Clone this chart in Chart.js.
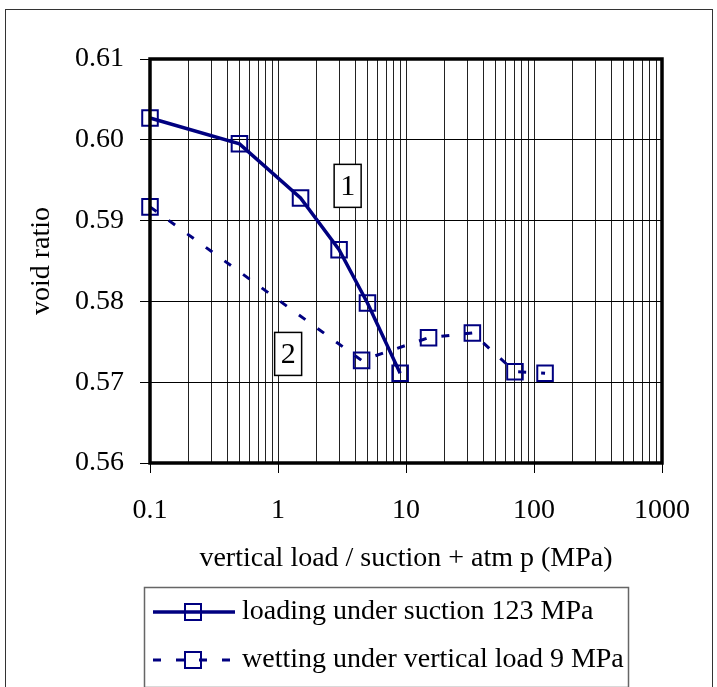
<!DOCTYPE html>
<html>
<head>
<meta charset="utf-8">
<script src="https://cdn.jsdelivr.net/npm/chart.js@4.4.1/dist/chart.umd.min.js"></script>
<style>
  html, body { margin: 0; padding: 0; background: #fff; }
  .frame { position: absolute; left: 5px; top: 9px; width: 706px; height: 700px; border: 1.5px solid #333; }
  .container { position: absolute; left: 0; top: 0; width: 717px; height: 687px; }
</style>
</head>
<body>
<div class="frame"></div>
<div class="container"><canvas id="myChart"></canvas></div>
<script>
// curve 1: loading under suction
const loadingX = [0.1, 0.5, 1.5, 3, 5, 9];
const loadingY = [0.6027, 0.5995, 0.5928, 0.5864, 0.5798, 0.5711];
// curve 2: wetting under vertical load
const wettingX = [0.1, 4.5, 15, 33, 71, 122];
const wettingY = [0.5917, 0.5727, 0.5755, 0.5761, 0.5713, 0.5711];

const xTickLabels = ["0.1", "1", "10", "100", "1000"];
const yTickLabels = ["0.56", "0.57", "0.58", "0.59", "0.60", "0.61"];

// boxed curve numbers, in data units
const curveLabels = ["1", "2"];
const curveLabelX = [3.5, 1.2];
const curveLabelY = [0.5943, 0.5735];

const NAVY = "#000080";
const SERIF = "'Liberation Serif', 'Times New Roman', serif";

const decades = xTickLabels.map(Number);
const isDecade = (v) => decades.some((d) => Math.abs(v - d) < d * 1e-6);

// frame around plot + boxed numbers
const plotExtras = {
  id: "plotExtras",
  afterDatasetsDraw(chart) {
    const { ctx, chartArea: a, scales } = chart;
    ctx.save();
    ctx.strokeStyle = "#000";
    ctx.lineWidth = 3.5;
    ctx.strokeRect(a.left, a.top, a.right - a.left, a.bottom - a.top);

    ctx.font = "30px " + SERIF;
    ctx.textAlign = "center";
    ctx.textBaseline = "middle";
    curveLabels.forEach((t, i) => {
      const x = scales.x.getPixelForValue(curveLabelX[i]);
      const y = scales.y.getPixelForValue(curveLabelY[i]);
      ctx.fillStyle = "#fff";
      ctx.fillRect(x - 13.5, y - 21.5, 27, 43);
      ctx.lineWidth = 1.5;
      ctx.strokeStyle = "#000";
      ctx.strokeRect(x - 13.5, y - 21.5, 27, 43);
      ctx.fillStyle = "#000";
      ctx.fillText(t, x, y + 1);
    });
    ctx.restore();
  },
};

// legend in a box below the axis
const boxLegend = {
  id: "boxLegend",
  afterDraw(chart) {
    const ctx = chart.ctx;
    ctx.save();
    ctx.strokeStyle = "#666";
    ctx.lineWidth = 1.5;
    ctx.strokeRect(144.5, 587.5, 484, 100);
    chart.data.datasets.forEach((ds, i) => {
      const y = 612 + i * 48;
      ctx.strokeStyle = ds.borderColor;
      ctx.lineWidth = ds.borderWidth;
      ctx.setLineDash(ds.borderDash || []);
      ctx.beginPath();
      ctx.moveTo(153, y);
      ctx.lineTo(235, y);
      ctx.stroke();
      ctx.setLineDash([]);
      ctx.lineWidth = 2;
      ctx.strokeRect(185, y - 8, 16, 16);
      ctx.fillStyle = "#000";
      ctx.font = "28px " + SERIF;
      ctx.textAlign = "left";
      ctx.textBaseline = "middle";
      ctx.fillText(ds.label, 242, y);
    });
    ctx.restore();
  },
};

new Chart(document.getElementById("myChart"), {
  type: "line",
  data: {
    datasets: [
      {
        label: "loading under suction 123 MPa",
        data: loadingX.map((x, i) => ({ x, y: loadingY[i] })),
        borderColor: NAVY,
        borderWidth: 3.5,
        pointStyle: "rect",
        pointRadius: 11,
        pointBorderWidth: 2,
        pointBorderColor: NAVY,
        pointBackgroundColor: "rgba(0,0,0,0)",
        tension: 0,
        clip: false,
      },
      {
        label: "wetting under vertical load 9 MPa",
        data: wettingX.map((x, i) => ({ x, y: wettingY[i] })),
        borderColor: NAVY,
        borderWidth: 3,
        borderDash: [8, 15],
        pointStyle: "rect",
        pointRadius: 11,
        pointBorderWidth: 2,
        pointBorderColor: NAVY,
        pointBackgroundColor: "rgba(0,0,0,0)",
        tension: 0,
        clip: false,
      },
    ],
  },
  options: {
    responsive: true,
    maintainAspectRatio: false,
    animation: false,
    layout: { padding: { left: 0, top: 59, right: 55, bottom: 112 } },
    plugins: { legend: { display: false }, tooltip: { enabled: false } },
    scales: {
      x: {
        type: "logarithmic",
        min: 0.1,
        max: 1000,
        afterBuildTicks: (scale) => {
          const t = [];
          decades.slice(0, -1).forEach((d) => {
            for (let m = 1; m < 10; m++) t.push({ value: d * m });
          });
          t.push({ value: decades[decades.length - 1] });
          scale.ticks = t;
        },
        afterFit: (scale) => { scale.height = 112; },
        ticks: {
          autoSkip: false,
          maxRotation: 0,
          padding: 21,
          color: "#000",
          font: { family: SERIF, size: 28 },
          callback: (v) => {
            const i = decades.findIndex((d) => Math.abs(v - d) < d * 1e-6);
            return i >= 0 ? xTickLabels[i] : "";
          },
        },
        grid: {
          color: "#222",
          lineWidth: 1,
          tickLength: 10,
          tickColor: (c) => (c.tick && isDecade(c.tick.value) ? "#000" : "rgba(0,0,0,0)"),
        },
        border: { display: false },
        title: {
          display: true,
          text: "vertical load / suction + atm p (MPa)",
          color: "#000",
          font: { family: SERIF, size: 28 },
          padding: { top: 0, bottom: 0 },
        },
      },
      y: {
        min: 0.56,
        max: 0.61,
        afterBuildTicks: (scale) => {
          scale.ticks = yTickLabels.map((l) => ({ value: Number(l) }));
        },
        afterFit: (scale) => { scale.width = 150; },
        ticks: {
          padding: 16,
          color: "#000",
          font: { family: SERIF, size: 28 },
          callback: (v) => yTickLabels.find((l) => Math.abs(Number(l) - v) < 1e-6) || "",
        },
        grid: { color: "#000", lineWidth: 1, tickLength: 10, tickColor: "#000" },
        border: { display: false },
        title: {
          display: true,
          text: "void ratio",
          color: "#000",
          font: { family: SERIF, size: 28 },
          padding: { top: 25, bottom: 0 },
        },
      },
    },
  },
  plugins: [plotExtras, boxLegend],
});
</script>
</body>
</html>
